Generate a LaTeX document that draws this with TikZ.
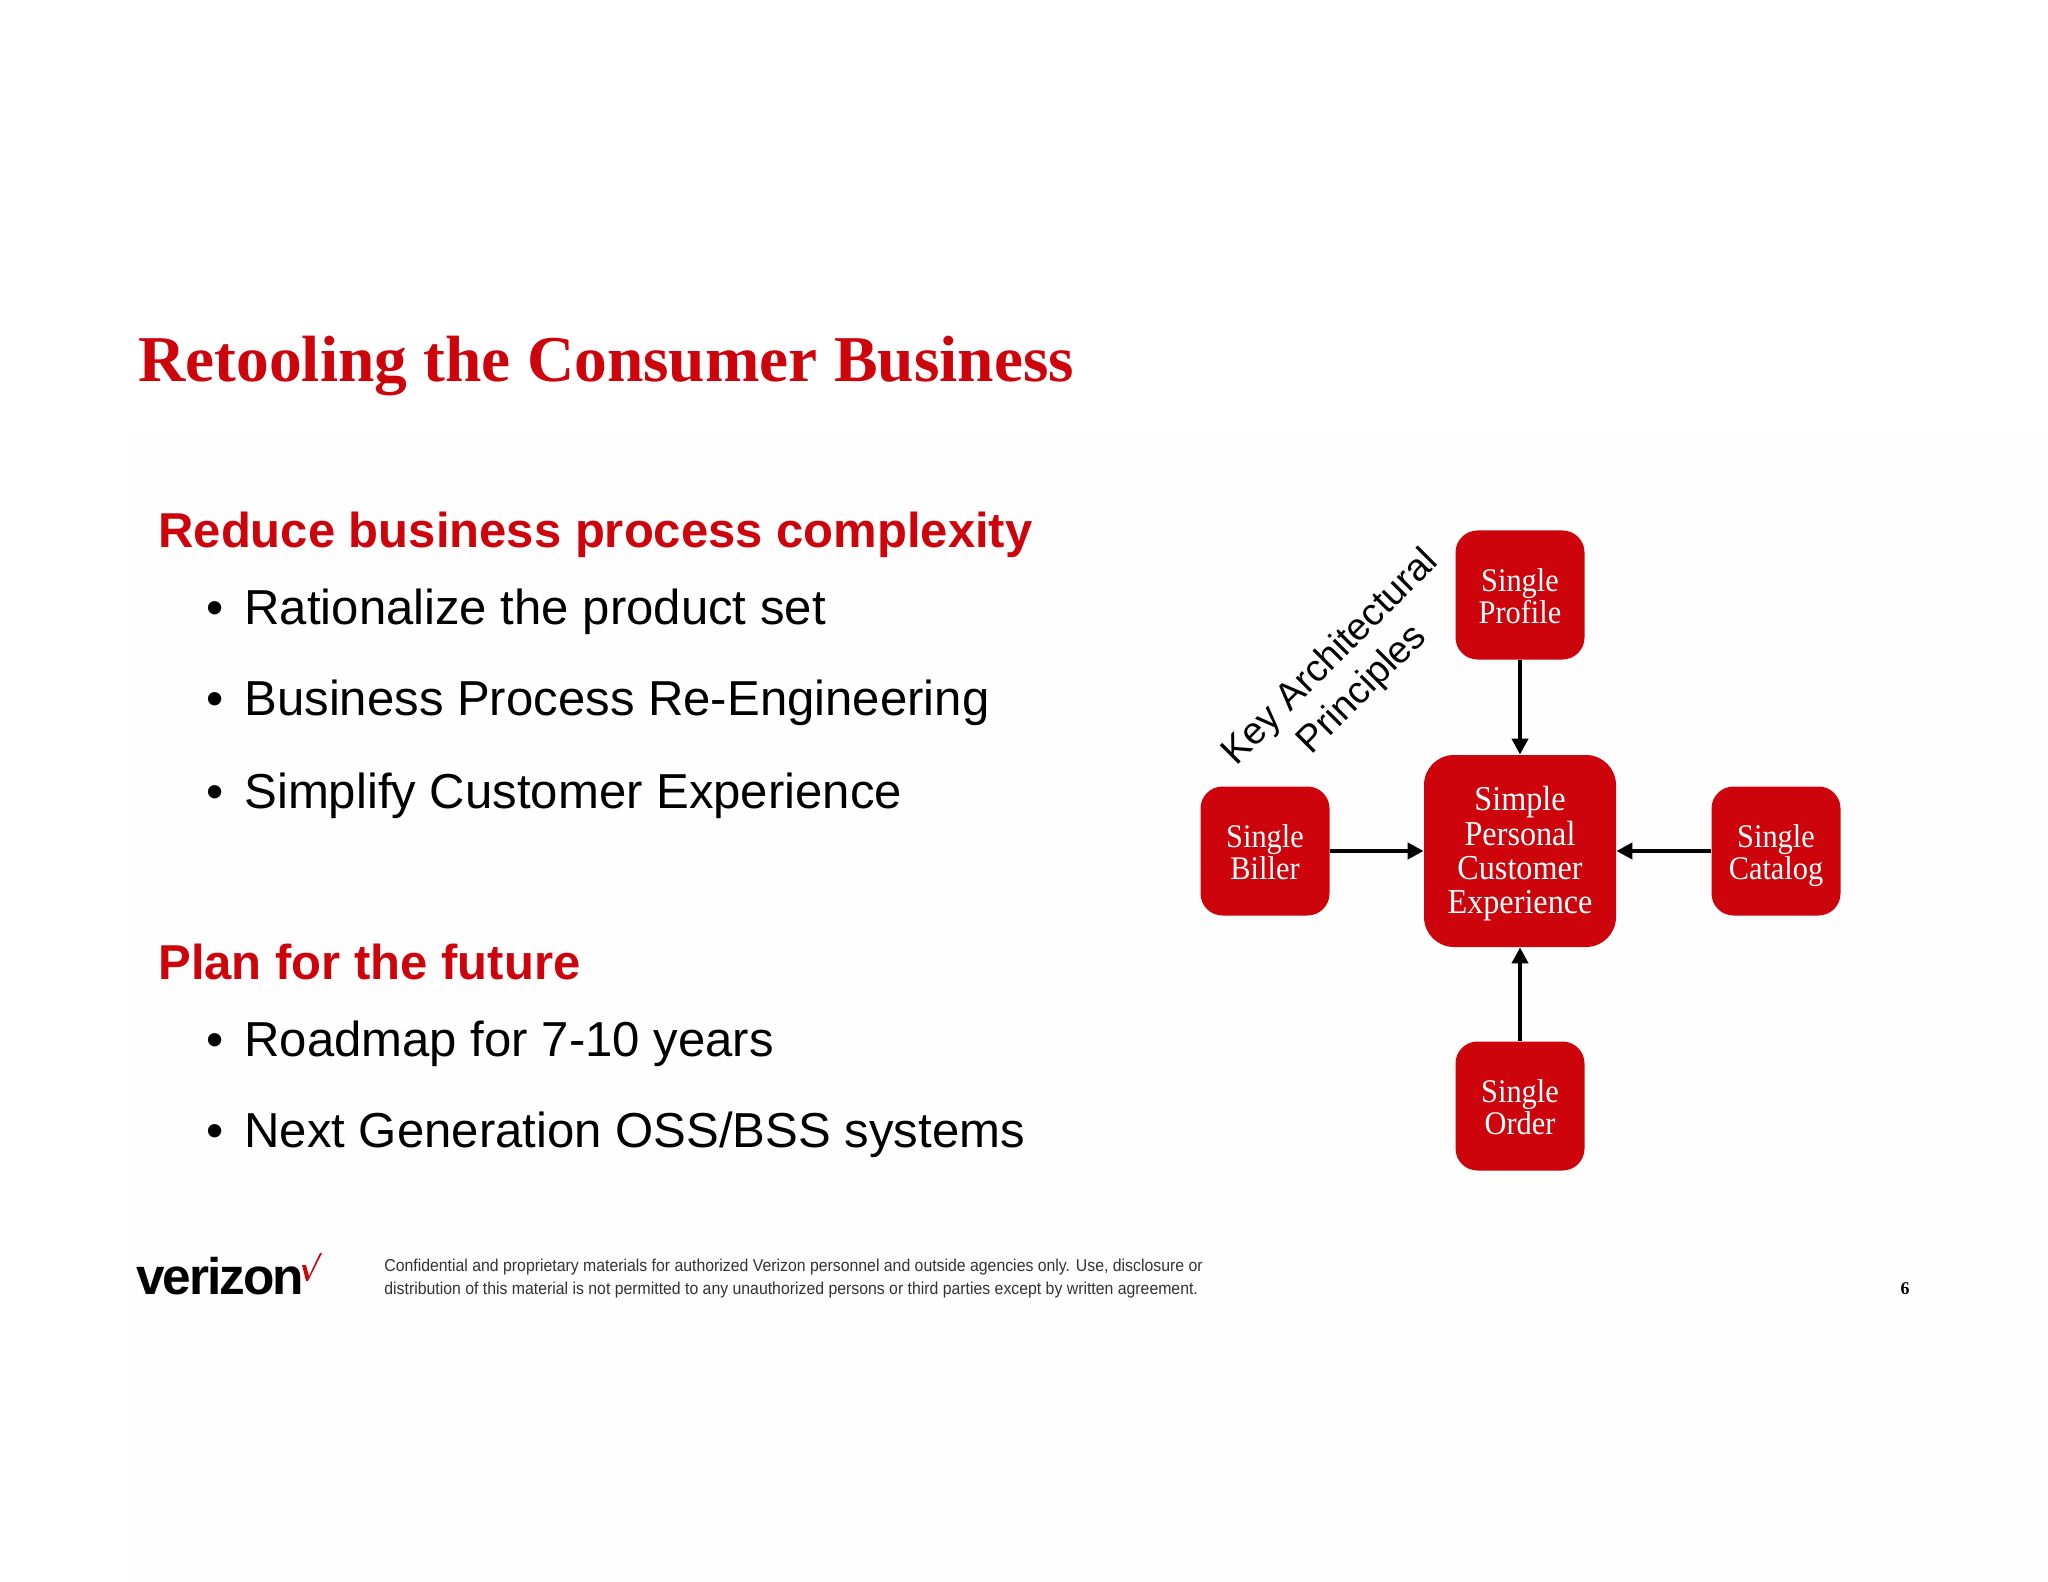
\documentclass[tikz,border=0pt]{standalone}
\usepackage{fontspec}
\setmainfont{Liberation Sans}
\newfontfamily\serifx{Liberation Serif}
\newfontfamily\serifn[FakeStretch=0.92]{Liberation Serif}
\usetikzlibrary{arrows.meta}
\definecolor{vred}{HTML}{CD040B}
\newcommand\boxlines[2][2.8pt]{\raisebox{-#1}[\height][\depth]{\begin{tabular}{@{}c@{}}#2\end{tabular}}}
\tikzset{
 x=0.5pt,y=-0.5pt,
 smallbox/.style={fill=vred,rounded corners=11pt,minimum width=64.5pt,minimum height=64.5pt,inner sep=0pt,text=white,font=\serifn\fontsize{16.5}{15.5}\selectfont},
 bigbox/.style={fill=vred,rounded corners=15pt,minimum width=96pt,minimum height=96pt,inner sep=0pt,text=white,font=\serifn\fontsize{17.5}{17.2}\selectfont},
 conn/.style={draw=black,line width=2.1pt,-{Triangle[length=8pt,width=8pt]},shorten <=0pt,shorten >=0pt},
 head/.style={anchor=base west,inner sep=0pt,text=vred,font=\bfseries\fontsize{24.5}{30}\selectfont},
 item/.style={anchor=base west,inner sep=0pt,text=black,font=\fontsize{24.55}{30}\selectfont},
 dotb/.style={anchor=base west,inner sep=0pt,text=black,font=\fontsize{24.55}{30}\selectfont},
 foot/.style={anchor=base west,inner sep=0pt,text=black!80,font=\fontsize{8.6}{10}\selectfont},
}
\begin{document}
\begin{tikzpicture}
\useasboundingbox (0,0) rectangle (2048,1582);
\fill[white] (0,0) rectangle (2048,1582);
\fill[black!0.4] (125,430) rectangle (2048,1582);
\node[anchor=base west,inner sep=0pt,text=vred,font=\serifx\bfseries\fontsize{32.7}{36}\selectfont] (title) at (138,382) {Retooling the Consumer Business};
\node[head] (h1) at (158,548) {Reduce business process complexity};
\node[dotb] (b1) at (206,624.5) {•};
\node[item] (i1) at (244,624.5) {Rationalize the product set};
\node[dotb] (b2) at (206,715) {•};
\node[item] (i2) at (244,715) {Business Process Re-Engineering};
\node[dotb] (b3) at (206,808) {•};
\node[item] (i3) at (244,808) {Simplify Customer Experience};
\node[head] (h2) at (158,979) {Plan for the future};
\node[dotb] (b4) at (206,1056) {•};
\node[item] (i4) at (244,1056) {Roadmap for 7-10 years};
\node[dotb] (b5) at (206,1147) {•};
\node[item] (i5) at (244,1147) {Next Generation OSS/BSS systems};
\node[bigbox] (c) at (1520,851) {\boxlines[2.1pt]{Simple\\Personal\\Customer\\Experience}};
\node[smallbox] (p) at (1520,595) {\boxlines{Single\\Profile}};
\node[smallbox] (b) at (1265,851) {\boxlines{Single\\Biller}};
\node[smallbox] (k) at (1776,851) {\boxlines{Single\\Catalog}};
\node[smallbox] (o) at (1520,1106) {\boxlines{Single\\Order}};
\draw[conn] (p) -- (c);
\draw[conn] (b) -- (c);
\draw[conn] (k) -- (c);
\draw[conn] (o) -- (c);
\node[rotate=45,align=center,inner sep=0pt,font=\fontsize{19}{22.5}\selectfont] (lab) at (1347,674) {Key Architectural\\Principles};
\node[anchor=base west,inner sep=0pt,font=\bfseries\fontsize{25.7}{26}\selectfont] (logo) at (136,1294) {\addfontfeature{LetterSpace=-4}verizon};
\fill[vred] (302,1265) -- (306,1265) -- (309,1276) -- (320,1253) -- (322,1253) -- (308,1281) -- (306,1281) -- cycle;
\node[foot] (f1) at (384,1271) {\scalebox{0.92}[1]{Confidential and proprietary materials for authorized Verizon personnel and outside agencies only. Use, disclosure or}};
\node[foot] (f2) at (384,1294) {\scalebox{0.92}[1]{distribution of this material is not permitted to any unauthorized persons or third parties except by written agreement.}};
\node[anchor=base,inner sep=0pt,font=\serifx\bfseries\fontsize{9}{10}\selectfont] (pg) at (1905,1294) {6};
\end{tikzpicture}
\end{document}
